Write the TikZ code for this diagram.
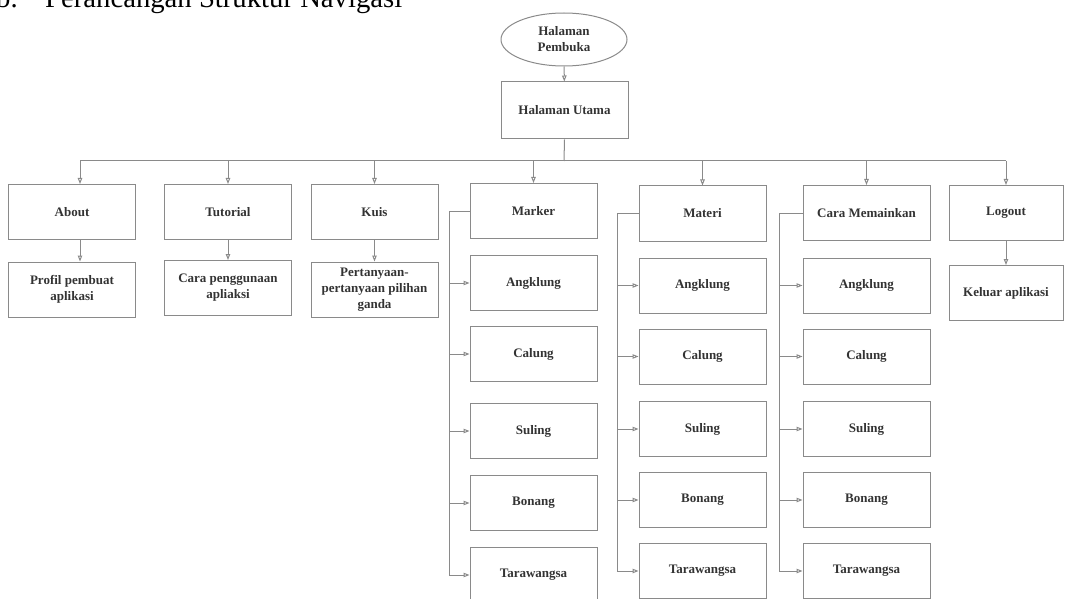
\documentclass[tikz,border=0pt]{standalone}
\usepackage{fontspec}
\setmainfont{Liberation Serif}
\usetikzlibrary{arrows.meta,shapes.geometric,calc}
\definecolor{ln}{HTML}{8A8A8A}
\definecolor{tx}{HTML}{333333}
\begin{document}
\begin{tikzpicture}[x=1pt,y=-1pt,
  lbl/.style={font=\fontsize{13}{16}\selectfont\bfseries, text=tx, align=center},
  box/.style={lbl, draw=ln, line width=1pt, rectangle, minimum width=127pt, minimum height=55pt, inner sep=2pt},
  oval/.style={lbl, draw=ln, line width=1pt, ellipse, minimum width=126pt, minimum height=53pt, inner sep=0pt},
  con/.style={draw=ln, line width=1pt},
  arr/.style={con, -{Triangle[open,length=6pt,width=4.5pt]}},
  ttlfont/.style={anchor=base west, inner sep=0pt, font=\fontsize{28.7}{30}\selectfont}]
\useasboundingbox (0,0) rectangle (1066,599);
% title (partly cut off at the top)
\node[ttlfont] (ttlb) at (-4,8) {b.};
\node[ttlfont] (ttl) at (45,8) {Perancangan Struktur Navigasi};
% top
\node[oval] (hp) at (564,39.5) {Halaman\\Pembuka};
\node[box, minimum height=57pt] (hu) at (564.5,110.5) {Halaman Utama};
% first row
\node[box] (about) at (72,212) {About};
\node[box] (tut) at (228,212) {Tutorial};
\node[box] (kuis) at (374.5,212) {Kuis};
\node[box] (mk) at (533.5,211) {Marker};
\node[box] (mt) at (702.5,213.5) {Materi};
\node[box] (cm) at (866.5,213) {Cara Memainkan};
\node[box, minimum width=114pt] (lo) at (1006,213) {Logout};
% second row
\node[box] (prof) at (72,289.5) {Profil pembuat\\aplikasi};
\node[box] (cpa) at (228,288) {Cara penggunaan\\apliaksi};
\node[box] (ppg) at (374.5,289.5) {Pertanyaan-\\pertanyaan pilihan\\ganda};
\node[box, minimum width=114pt] (kel) at (1006,293) {Keluar aplikasi};
% columns
\foreach \c/\x/\ya/\yb/\yc/\yd/\ye in {mk/533.5/283/354/431/503/575, mt/702.5/285.5/356.5/429/500/571, cm/866.5/285.5/356.5/429/500/571}{
  \node[box] (\c1) at (\x,\ya) {Angklung};
  \node[box] (\c2) at (\x,\yb) {Calung};
  \node[box] (\c3) at (\x,\yc) {Suling};
  \node[box] (\c4) at (\x,\yd) {Bonang};
  \node[box] (\c5) at (\x,\ye) {Tarawangsa};
}
% connectors
\coordinate (bus) at (564,161);
\coordinate (abt) at ($(about.north)+(8,0)$);
\draw[arr] (hp) -- (hu);
\draw[con] (hu.south) -- (bus);
\draw[con, rounded corners=4pt] (abt |- bus) -- (lo.north |- bus);
\draw[arr] (abt |- bus) -- (abt);
\foreach \n in {tut,kuis,mk,mt,cm,lo}{
  \draw[arr] (\n.north |- bus) -- (\n.north);
}
\draw[arr] ($(about.south)+(8,0)$) -- ($(prof.north)+(8,0)$);
\draw[arr] (tut) -- (cpa);
\draw[arr] (kuis) -- (ppg);
\draw[arr] (lo) -- (kel);
% vertical spines
\coordinate (mkv) at (449,0);
\coordinate (mtv) at (617,0);
\coordinate (cmv) at (779,0);
\foreach \c in {mk,mt,cm}{
  \draw[con] (\c.west) -- (\c v |- \c.west) -- (\c v |- \c5.west);
  \foreach \i in {1,...,5}{
    \draw[arr] (\c v |- \c\i.west) -- (\c\i.west);
  }
}
\end{tikzpicture}
\end{document}
